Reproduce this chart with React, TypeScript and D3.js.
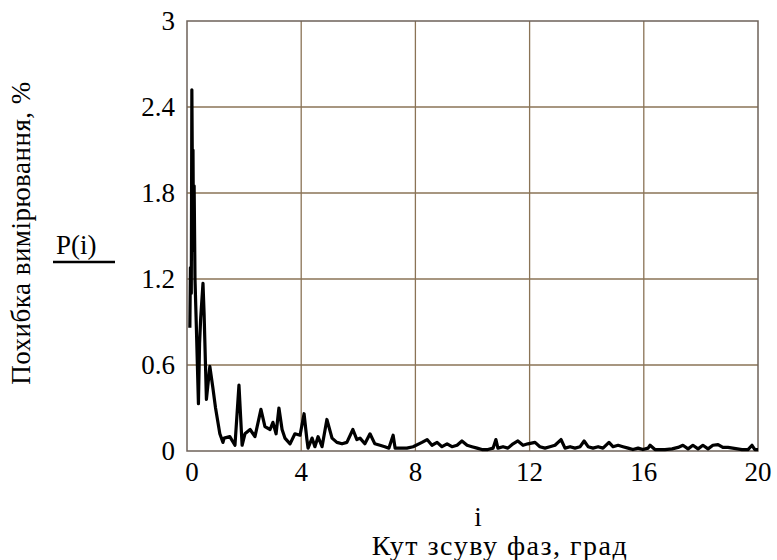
import * as d3 from "d3";

// i values (deg) and error P(i), %
const iValues = [
  0.10, 0.12, 0.15, 0.17, 0.19, 0.21, 0.23, 0.25, 0.28, 0.33, 0.40, 0.44, 0.48, 0.56, 0.60, 0.68, 0.80, 0.90,
  1.00, 1.15, 1.26, 1.30, 1.50, 1.68, 1.82, 1.93, 2.03, 2.21, 2.38, 2.59, 2.73, 2.91, 3.01,
  3.12, 3.22, 3.33, 3.43, 3.61, 3.78, 3.96, 4.10, 4.20, 4.24, 4.38, 4.48, 4.59, 4.73, 4.90,
  5.08, 5.25, 5.43, 5.60, 5.81, 5.95, 6.06, 6.23, 6.41, 6.58, 6.76, 6.93, 7.07, 7.22, 7.29,
  7.46, 7.70, 7.92, 8.23, 8.41, 8.58, 8.76, 8.93, 9.11, 9.28, 9.46, 9.63, 9.81, 9.98, 10.16,
  10.33, 10.54, 10.72, 10.82, 10.89, 11.07, 11.24, 11.42, 11.59, 11.77, 11.94, 12.19, 12.36,
  12.54, 12.71, 12.89, 13.10, 13.24, 13.42, 13.59, 13.77, 13.91, 14.05, 14.22, 14.40, 14.57,
  14.78, 14.92, 15.10, 15.27, 15.45, 15.62, 15.80, 15.97, 16.15, 16.22, 16.39, 16.74, 16.99,
  17.20, 17.37, 17.55, 17.72, 17.90, 18.07, 18.25, 18.42, 18.60, 18.77, 18.95, 19.44, 19.65,
  19.79, 19.89, 20.0,
];
const pValues = [
  0.86, 1.28, 1.10, 2.52, 1.90, 2.10, 1.40, 1.85, 1.20, 0.85, 0.33, 0.75, 0.93, 1.17, 0.95, 0.36, 0.59, 0.45,
  0.30, 0.12, 0.06, 0.09, 0.10, 0.04, 0.46, 0.04, 0.12, 0.15, 0.10, 0.29, 0.17, 0.15, 0.20,
  0.12, 0.30, 0.15, 0.09, 0.05, 0.12, 0.11, 0.26, 0.08, 0.02, 0.09, 0.03, 0.10, 0.03, 0.22,
  0.09, 0.06, 0.05, 0.06, 0.15, 0.08, 0.09, 0.05, 0.12, 0.05, 0.04, 0.03, 0.02, 0.11, 0.02,
  0.02, 0.02, 0.03, 0.06, 0.08, 0.04, 0.06, 0.03, 0.05, 0.03, 0.04, 0.07, 0.04, 0.03, 0.02,
  0.01, 0.01, 0.02, 0.08, 0.02, 0.03, 0.02, 0.05, 0.07, 0.04, 0.05, 0.06, 0.03,
  0.02, 0.03, 0.04, 0.08, 0.02, 0.03, 0.02, 0.03, 0.07, 0.03, 0.02, 0.03, 0.02,
  0.06, 0.03, 0.04, 0.03, 0.02, 0.01, 0.02, 0.01, 0.02, 0.04, 0.01, 0.01, 0.015,
  0.025, 0.04, 0.015, 0.04, 0.015, 0.04, 0.015, 0.04, 0.045, 0.025, 0.025, 0.01, 0.01,
  0.04, 0.01, 0.01,
];

const xTicks = [0, 4, 8, 12, 16, 20];
const yTicks = [0, 0.6, 1.2, 1.8, 2.4, 3];

const font = "Liberation Serif, DejaVu Serif, Times New Roman, serif";

export default function App() {
  const width = 777;
  const height = 560;
  const left = 187;
  const right = 758;
  const top = 21;
  const bottom = 451;

  const x = d3.scaleLinear().domain([0, 20]).range([left, right]);
  const y = d3.scaleLinear().domain([0, 3]).range([bottom, top]);

  const points = iValues.map((v, k) => [v, pValues[k]] as [number, number]);
  const line = d3
    .line<[number, number]>()
    .x(d => x(d[0]))
    .y(d => y(d[1]));

  return (
    <svg
      width={width}
      height={height}
      style={{ position: "absolute", left: 0, top: 0, background: "#fff", fontFamily: font }}
    >
      {/* grid */}
      {xTicks.slice(1, -1).map(t => (
        <line key={"gx" + t} x1={x(t)} x2={x(t)} y1={top} y2={bottom} stroke="#8a7356" strokeWidth={1.3} />
      ))}
      {yTicks.slice(1, -1).map(t => (
        <line key={"gy" + t} x1={left} x2={right} y1={y(t)} y2={y(t)} stroke="#8a7356" strokeWidth={1.3} />
      ))}
      <rect x={left} y={top} width={right - left} height={bottom - top} fill="none" stroke="#6e6259" strokeWidth={1.5} />

      {/* data */}
      <path d={line(points) || ""} fill="none" stroke="#000" strokeWidth={3.2} strokeLinejoin="round" />

      {/* tick labels */}
      {yTicks.map(t => (
        <text key={"ty" + t} x={175} y={y(t)} dy="0.35em" textAnchor="end" fontSize={27}>
          {String(t)}
        </text>
      ))}
      {xTicks.map(t => (
        <text key={"tx" + t} x={x(t) + (t === 0 ? 5 : 0)} y={481} textAnchor="middle" fontSize={27}>
          {String(t)}
        </text>
      ))}

      {/* axis labels */}
      <text x={478} y={526} textAnchor="middle" fontSize={27}>i</text>
      <text x={500} y={555} textAnchor="middle" fontSize={28} letterSpacing={1.5}>
        Кут зсуву фаз, град
      </text>
      <text transform="translate(30,233) rotate(-90)" textAnchor="middle" fontSize={27} letterSpacing={0.5}>
        Похибка вимірювання, %
      </text>
      <text x={56} y={254} fontSize={27}>P(i)</text>
      <line x1={53} x2={115} y1={262} y2={262} stroke="#000" strokeWidth={2.5} />
    </svg>
  );
}
